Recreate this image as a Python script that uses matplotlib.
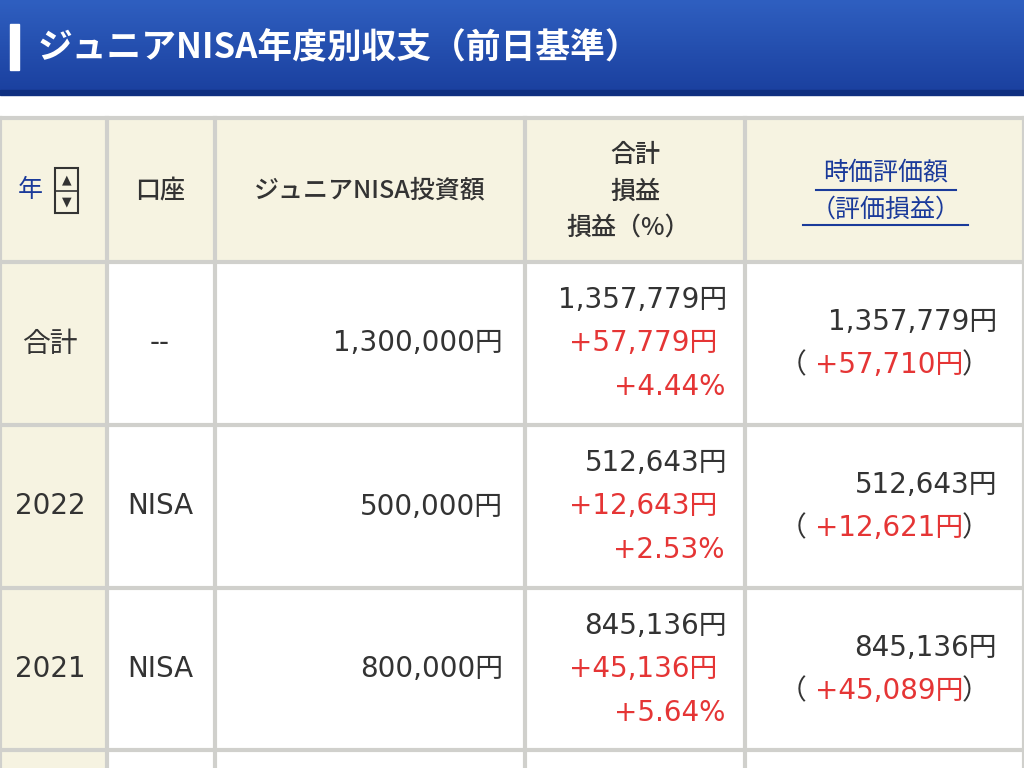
import matplotlib
matplotlib.use("Agg")
import matplotlib.pyplot as plt
from matplotlib.patches import Rectangle
from matplotlib.colors import LinearSegmentedColormap
import numpy as np

plt.rcParams['font.family'] = ['Noto Sans CJK JP', 'DejaVu Sans']
NUM = ['DejaVu Sans', 'Noto Sans CJK JP']

title = "ジュニアNISA年度別収支（前日基準）"
years = ["合計", "2022", "2021"]
accounts = ["--", "NISA", "NISA"]
invest = ["1,300,000円", "500,000円", "800,000円"]
totals = ["1,357,779円", "512,643円", "845,136円"]
gains = ["+57,779円", "+12,643円", "+45,136円"]
pcts = ["+4.44%", "+2.53%", "+5.64%"]
market = ["1,357,779円", "512,643円", "845,136円"]
evals = ["+57,710円", "+12,621円", "+45,089円"]

fig = plt.figure(figsize=(10.24, 7.68), dpi=100)
ax = fig.add_axes([0, 0, 1, 1])
ax.set_xlim(0, 1024); ax.set_ylim(768, 0); ax.axis('off')

grad = np.linspace(0, 1, 100).reshape(-1, 1)
cm = LinearSegmentedColormap.from_list('g', ['#2f5fc0', '#1a3f9e'])
ax.imshow(grad, cmap=cm, extent=(0, 1024, 95, 0), aspect='auto', zorder=0)
ax.add_patch(Rectangle((0, 90), 1024, 5, color='#0f2f80', zorder=1))
ax.add_patch(Rectangle((10, 24), 9, 46, color='white', zorder=2))
ax.text(38, 48, title, color='white', fontsize=25, fontweight='bold', va='center', ha='left', zorder=3)

cols = [0, 107, 215, 525, 745, 1024]
rows = [118, 262, 425, 588, 750, 790]
cream = '#f6f3e1'
ax.add_patch(Rectangle((0, rows[0]), 1024, rows[1]-rows[0], color=cream, zorder=1))
ax.add_patch(Rectangle((0, rows[1]), cols[1], 768-rows[1], color=cream, zorder=1))
for x in cols:
    ax.plot([x, x], [rows[0], 768], color='#d0d0cc', lw=3, zorder=2)
for y in rows[:-1]:
    ax.plot([0, 1024], [y, y], color='#d0d0cc', lw=3, zorder=2)

dark = '#333333'; red = '#e53535'; blue = '#1a3a9a'
fs = 20
hf = 18
ax.text(18, 190, "年", color=blue, fontsize=hf, va='center', ha='left')
ax.add_patch(Rectangle((55, 168), 23, 45, fill=False, ec='#333', lw=1.5, zorder=3))
ax.plot([55, 78], [190.5, 190.5], color='#333', lw=1.2, zorder=3)
ax.text(66.5, 180, "▲", fontsize=9, ha='center', va='center', color='#333', family='DejaVu Sans')
ax.text(66.5, 202, "▼", fontsize=9, ha='center', va='center', color='#333', family='DejaVu Sans')
ax.text(160, 190, "口座", color=dark, fontsize=hf, va='center', ha='center', fontweight='medium')
ax.text(370, 190, "ジュニアNISA投資額", color=dark, fontsize=hf, va='center', ha='center', fontweight='medium')
for t, y, x in zip(["合計", "損益", "損益（%）"], [155, 192, 228], [635, 635, 628]):
    ax.text(x, y, t, color=dark, fontsize=hf, va='center', ha='center', fontweight='medium')
ax.text(886, 173, "時価評価額", color=blue, fontsize=hf, va='center', ha='center')
ax.plot([816, 956], [190, 190], color=blue, lw=1.5)
ax.text(886, 210, "（評価損益）", color=blue, fontsize=hf, va='center', ha='center')
ax.plot([803, 968], [225, 225], color=blue, lw=1.5)

for i in range(3):
    top = rows[i+1]
    mid = (rows[i+1] + rows[i+2]) / 2
    ax.text(50, mid, years[i], color=dark, fontsize=fs, va='center', ha='center', family=NUM)
    ax.text(160, mid, accounts[i], color=dark, fontsize=fs, va='center', ha='center', family=NUM)
    ax.text(503, mid, invest[i], color=dark, fontsize=fs, va='center', ha='right', family=NUM)
    ax.text(727, top + 38, totals[i], color=dark, fontsize=fs, va='center', ha='right', family=NUM)
    ax.text(717, top + 81, gains[i], color=red, fontsize=fs, va='center', ha='right', family=NUM)
    ax.text(725, top + 125, pcts[i], color=red, fontsize=fs, va='center', ha='right', family=NUM)
    ax.text(997, top + 60, market[i], color=dark, fontsize=fs, va='center', ha='right', family=NUM)
    ax.text(779, top + 103, "（", color=dark, fontsize=fs, va='center', ha='left')
    ax.text(815, top + 103, evals[i], color=red, fontsize=fs, va='center', ha='left', family=NUM)
    ax.text(962, top + 103, "）", color=dark, fontsize=fs, va='center', ha='left')

fig.savefig("out.png", dpi=100)
